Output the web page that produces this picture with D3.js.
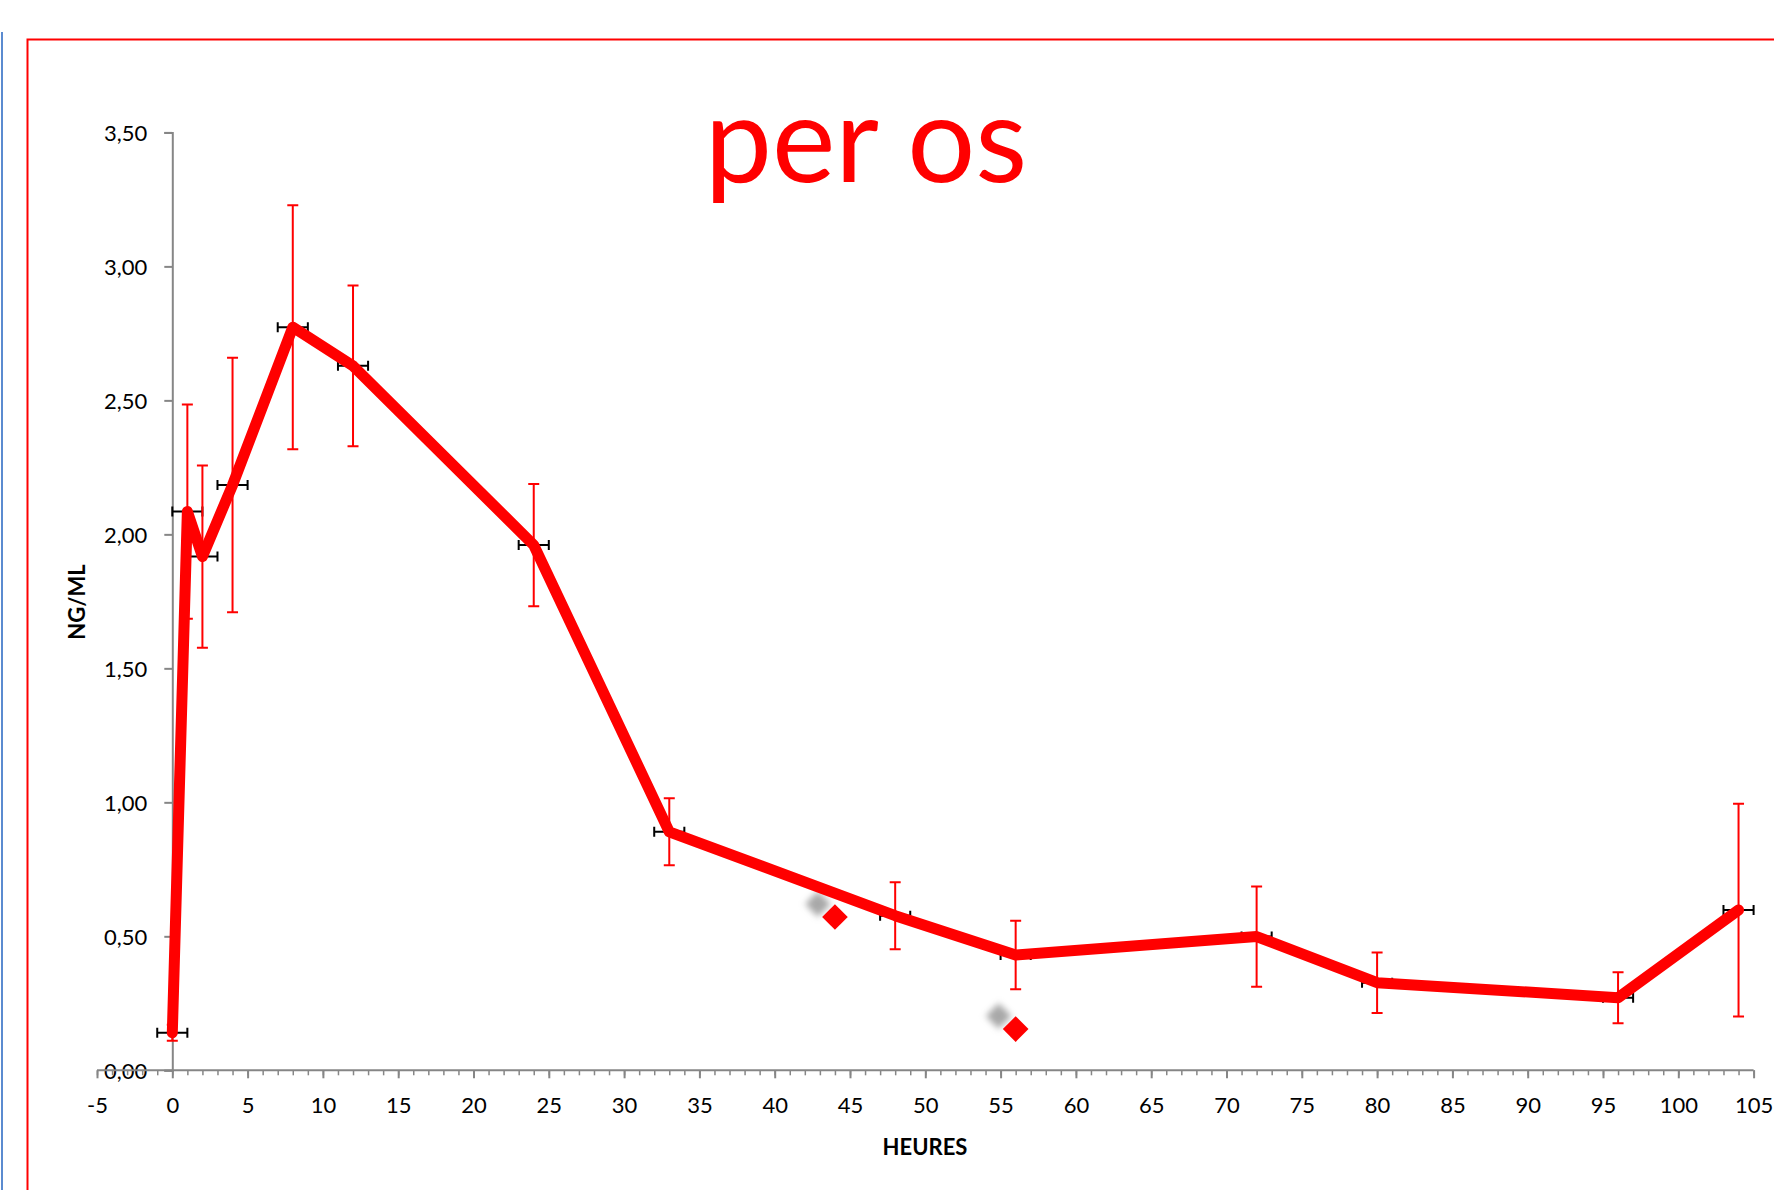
<!DOCTYPE html>
<html>
<head>
<meta charset="utf-8">
<script src="https://cdn.jsdelivr.net/npm/d3@7"></script>
<style>
  html, body { margin: 0; padding: 0; background: #fff; }
  svg { display: block; }
</style>
</head>
<body>
<svg id="chart" width="1774" height="1190"></svg>
<script>
// ---- data ----
const hours = [0, 1, 2, 4, 8, 12, 24, 33, 48, 56, 72, 80, 96, 104];
const concentration = [0.14, 2.085, 1.917, 2.184, 2.773, 2.629, 1.96, 0.89, 0.577, 0.43, 0.499, 0.327, 0.271, 0.598];
const concSD = [0.03, 0.40, 0.34, 0.475, 0.455, 0.30, 0.228, 0.125, 0.125, 0.128, 0.187, 0.113, 0.095, 0.397];
const hourErr = [1, 1, 1, 1, 1, 1, 1, 1, 1, 1, 1, 1, 1, 1];
const extraHours = [44, 56];
const extraConc = [0.572, 0.154];
const xTicks = [-5, 0, 5, 10, 15, 20, 25, 30, 35, 40, 45, 50, 55, 60, 65, 70, 75, 80, 85, 90, 95, 100, 105];
const yTicks = [0, 0.5, 1, 1.5, 2, 2.5, 3, 3.5];
const titleText = "per os";
const xTitle = "HEURES";
const yTitle = "NG/ML";

// ---- layout ----
const svg = d3.select("#chart");
const FONT = "Lato, 'Open Sans', sans-serif";
const x = d3.scaleLinear().domain([-5, 105]).range([97, 1753.6]);
const y = d3.scaleLinear().domain([0, 3.5]).range([1070.3, 132.4]);
const axisColor = "#868686";

// frame lines
svg.append("line").attr("x1", 2).attr("x2", 2).attr("y1", 32).attr("y2", 1190)
  .attr("stroke", "#5b8bd0").attr("stroke-width", 2);
svg.append("path").attr("d", "M27.5,1190 V39.5 H1774")
  .attr("fill", "none").attr("stroke", "#ff0000").attr("stroke-width", 2);

// defs: shadow blur
const defs = svg.append("defs");
defs.append("filter").attr("id", "blur").attr("x", "-50%").attr("y", "-50%").attr("width", "200%").attr("height", "200%")
  .append("feGaussianBlur").attr("stdDeviation", 3);

// y axis (at x = 0)
const yAxis = d3.axisLeft(y).tickValues(yTicks).tickSize(8).tickPadding(17)
  .tickFormat(d => d3.format(".2f")(d).replace(".", ","));
const gy = svg.append("g").attr("transform", `translate(${x(0)},0)`).call(yAxis);
gy.select(".domain").attr("stroke", axisColor).attr("stroke-width", 2);
gy.selectAll(".tick line").attr("stroke", axisColor).attr("stroke-width", 2);
gy.selectAll(".tick text").attr("font-family", FONT).attr("font-size", 22).attr("fill", "#000")
  .attr("dy", "0.36em");

// x axis minor ticks
const gxMinor = svg.append("g").attr("transform", `translate(0,${y(0)})`)
  .call(d3.axisBottom(x).tickValues(d3.range(-5, 106, 1)).tickSize(5).tickFormat(""));
gxMinor.select(".domain").remove();
gxMinor.selectAll(".tick line").attr("stroke", axisColor).attr("stroke-width", 1.5);

// x axis major
const xAxis = d3.axisBottom(x).tickValues(xTicks).tickSize(8).tickPadding(19).tickFormat(d => String(d));
const gx = svg.append("g").attr("transform", `translate(0,${y(0)})`).call(xAxis);
gx.select(".domain").attr("stroke", axisColor).attr("stroke-width", 2).attr("d", `M${x(-5)},0H${x(105)}`);
gx.selectAll(".tick line").attr("stroke", axisColor).attr("stroke-width", 2);
gx.selectAll(".tick text").attr("font-family", FONT).attr("font-size", 22).attr("fill", "#000");

// axis titles
svg.append("text").attr("x", 925).attr("y", 1155).attr("text-anchor", "middle")
  .attr("font-family", FONT).attr("font-weight", "bold").attr("font-size", 22).text(xTitle);
svg.append("text").attr("transform", "translate(85,602) rotate(-90)").attr("text-anchor", "middle")
  .attr("font-family", FONT).attr("font-weight", "bold").attr("font-size", 22).text(yTitle);

// chart title
svg.append("text").attr("x", 866).attr("y", 182).attr("text-anchor", "middle")
  .attr("font-family", FONT).attr("font-size", 120).attr("fill", "#ff0000").text(titleText);

const pts = hours.map((h, i) => ({ h, c: concentration[i], sd: concSD[i], xe: hourErr[i] }));

// horizontal (black) error bars
const gxe = svg.append("g").attr("stroke", "#000").attr("stroke-width", 2).attr("fill", "none");
pts.forEach(p => {
  const yy = y(p.c), x1 = x(p.h - p.xe), x2 = x(p.h + p.xe);
  gxe.append("path").attr("d", `M${x1},${yy}H${x2}M${x1},${yy - 5}V${yy + 5}M${x2},${yy - 5}V${yy + 5}`);
});

// extra points with shadow
const extra = extraHours.map((h, i) => ({ h, c: extraConc[i] }));
const diamond = d3.symbol().type(d3.symbolSquare).size(330);
svg.append("g").selectAll("path.sh").data(extra).join("path")
  .attr("d", diamond)
  .attr("transform", d => `translate(${x(d.h) - 17},${y(d.c) - 13}) rotate(45)`)
  .attr("fill", "#a8a8a8").attr("filter", "url(#blur)");
svg.append("g").selectAll("path.dm").data(extra).join("path")
  .attr("d", diamond)
  .attr("transform", d => `translate(${x(d.h)},${y(d.c)}) rotate(45)`)
  .attr("fill", "#ff0000");

// main line
const line = d3.line().x(d => x(d.h)).y(d => y(d.c));
svg.append("path").datum(pts).attr("d", line)
  .attr("fill", "none").attr("stroke", "#ff0000").attr("stroke-width", 11)
  .attr("stroke-linejoin", "round").attr("stroke-linecap", "round");

// vertical (red) error bars
const gye = svg.append("g").attr("stroke", "#ff0000").attr("stroke-width", 2).attr("fill", "none");
pts.forEach(p => {
  const xx = x(p.h), y1 = y(p.c + p.sd), y2 = y(p.c - p.sd);
  gye.append("path").attr("d", `M${xx},${y1}V${y2}M${xx - 5.5},${y1}H${xx + 5.5}M${xx - 5.5},${y2}H${xx + 5.5}`);
});
</script>
</body>
</html>
